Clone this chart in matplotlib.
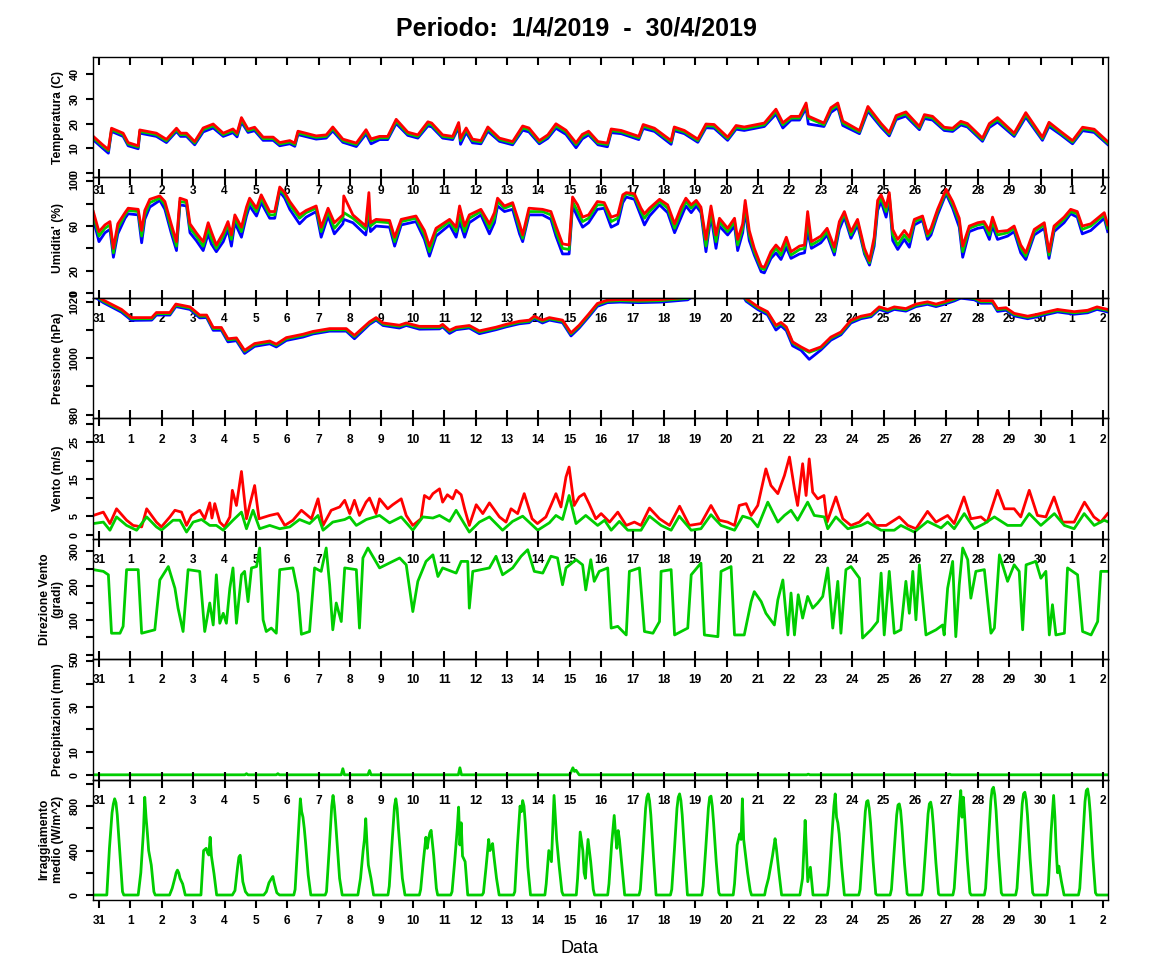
import matplotlib
matplotlib.use("Agg")
import matplotlib.pyplot as plt

plt.rcParams['font.family'] = ['Liberation Sans', 'DejaVu Sans']

# time axis: days counted from 31/3/2019 00:00
day_labels = ['31'] + [str(d) for d in range(1, 31)] + ['1', '2']

# --- temperature (C) ---
temp_t = [-0.18, 0.1, 0.3, 0.4, 0.77, 0.93, 1.25, 1.3, 1.83, 2.15,
          2.47, 2.6, 2.79, 3.05, 3.32, 3.64, 3.96, 4.27, 4.4, 4.54,
          4.75, 4.96, 5.23, 5.55, 5.76, 6.08, 6.24, 6.34, 6.92, 7.24,
          7.45, 7.77, 8.2, 8.51, 8.67, 8.94, 9.2, 9.47, 9.84, 10.16,
          10.48, 10.6, 10.95, 11.27, 11.46, 11.52, 11.7, 11.9, 12.17, 12.39,
          12.76, 13.18, 13.5, 13.7, 14.03, 14.3, 14.56, 14.88, 15.2, 15.4,
          15.6, 15.9, 16.2, 16.32, 16.64, 17.2, 17.34, 17.7, 18.23, 18.33,
          18.65, 19.08, 19.34, 19.6, 20.03, 20.3, 20.56, 21.2, 21.57, 21.79,
          22.05, 22.32, 22.53, 22.6, 23.1, 23.32, 23.54, 23.7, 24.23, 24.5,
          24.92, 25.18, 25.4, 25.71, 26.14, 26.3, 26.56, 26.93, 27.2, 27.46,
          27.67, 28.15, 28.37, 28.63, 29.16, 29.53, 30.06, 30.27, 30.64, 31.02,
          31.34, 31.71, 32.14]
temp_med = [14.2, 11.0, 9.0, 17.5, 15.5, 11.7, 10.5, 16.8, 15.5, 13.0,
            17.5, 15.5, 15.5, 12.1, 17.5, 19.1, 15.5, 17.1, 15.5, 21.6,
            17.1, 17.9, 13.9, 13.9, 11.7, 12.5, 11.5, 16.2, 14.4, 14.8,
            17.9, 13.1, 11.5, 16.8, 13.1, 14.2, 14.2, 20.9, 15.9, 14.8,
            19.9, 19.5, 14.8, 14.2, 19.5, 13.1, 17.5, 13.1, 12.5, 17.9,
            13.5, 12.1, 18.2, 17.5, 12.5, 14.8, 19.1, 16.6, 11.5, 14.8,
            16.2, 12.1, 11.5, 17.1, 16.6, 14.2, 18.9, 17.5, 12.5, 17.9,
            16.6, 13.1, 19.1, 18.9, 13.9, 18.5, 17.9, 19.5, 24.9, 19.5,
            22.2, 22.2, 27.4, 22.2, 19.5, 25.6, 27.4, 20.2, 16.6, 26.0,
            19.3, 15.8, 22.5, 23.9, 18.2, 22.9, 22.2, 17.9, 17.5, 20.2,
            19.3, 13.5, 19.3, 21.6, 15.5, 23.6, 13.9, 19.8, 16.2, 12.5,
            17.9, 17.1, 12.1]
temp_max = [14.8, 11.6, 9.5, 18.1, 16.1, 12.3, 11.0, 17.4, 16.1, 13.6,
            18.1, 16.1, 16.1, 12.7, 18.2, 19.8, 16.1, 17.8, 16.1, 22.4,
            17.7, 18.5, 14.5, 14.5, 12.3, 13.1, 12.1, 16.9, 15.0, 15.4,
            18.6, 13.7, 12.1, 17.5, 13.8, 14.8, 14.8, 21.7, 16.5, 15.4,
            20.7, 20.2, 15.4, 14.8, 20.4, 14.0, 18.2, 13.7, 13.1, 18.6,
            14.1, 12.7, 19.0, 18.2, 13.1, 15.4, 19.9, 17.3, 12.2, 15.6,
            16.9, 12.7, 12.1, 17.8, 17.2, 14.8, 19.6, 18.1, 13.1, 18.6,
            17.2, 13.7, 19.8, 19.6, 14.5, 19.2, 18.6, 20.2, 25.8, 20.3,
            22.9, 22.9, 28.3, 23.0, 20.2, 26.4, 28.3, 21.0, 17.2, 26.9,
            20.0, 16.4, 23.2, 24.7, 18.8, 23.6, 22.9, 18.5, 18.1, 20.9,
            20.0, 14.1, 20.0, 22.4, 16.1, 24.4, 14.5, 20.5, 16.8, 13.1,
            18.5, 17.7, 12.7]
temp_min = [13.4, 10.2, 8.0, 16.8, 14.8, 11.0, 9.8, 16.1, 14.8, 12.3,
            16.8, 14.8, 14.8, 11.4, 16.6, 18.2, 14.8, 16.3, 14.6, 20.6,
            16.4, 17.1, 13.2, 13.2, 11.0, 11.8, 10.8, 15.5, 13.7, 14.1,
            17.0, 12.4, 10.7, 15.8, 11.8, 13.5, 13.5, 20.0, 15.2, 14.1,
            19.0, 18.7, 14.1, 13.5, 18.4, 11.6, 16.4, 12.2, 11.8, 16.9,
            12.8, 11.4, 17.3, 16.6, 11.8, 14.0, 18.1, 15.6, 10.2, 13.8,
            15.4, 11.4, 10.6, 16.3, 15.9, 13.5, 18.0, 16.8, 11.6, 17.1,
            15.9, 12.4, 18.3, 18.1, 13.2, 17.7, 17.2, 18.8, 23.8, 18.2,
            21.4, 21.4, 26.2, 19.8, 18.8, 24.5, 26.4, 19.2, 15.9, 25.0,
            18.5, 15.0, 21.6, 23.0, 17.5, 22.0, 21.4, 17.2, 16.8, 19.4,
            18.6, 12.8, 18.4, 20.6, 14.8, 22.6, 13.2, 18.8, 15.5, 11.8,
            17.1, 16.4, 11.5]

# --- relative humidity (%) ---
hum_t = [-0.18, 0.0, 0.19, 0.35, 0.46, 0.6, 0.83, 0.93, 1.25, 1.36,
         1.46, 1.62, 1.94, 2.1, 2.3, 2.47, 2.58, 2.79, 2.9, 3.1,
         3.32, 3.48, 3.58, 3.74, 3.96, 4.11, 4.22, 4.33, 4.54, 4.7,
         4.8, 5.02, 5.17, 5.44, 5.6, 5.76, 5.92, 6.08, 6.39, 6.6,
         6.92, 7.08, 7.3, 7.5, 7.77, 7.8, 8.09, 8.5, 8.6, 8.65,
         8.83, 9.26, 9.42, 9.63, 10.1, 10.37, 10.53, 10.74, 11.17, 11.38,
         11.49, 11.65, 11.8, 12.17, 12.44, 12.6, 12.7, 12.92, 13.18, 13.4,
         13.5, 13.7, 14.13, 14.4, 14.56, 14.77, 14.98, 15.09, 15.25, 15.41,
         15.6, 15.88, 16.1, 16.32, 16.53, 16.69, 16.8, 17.06, 17.27, 17.38,
         17.54, 17.86, 18.12, 18.34, 18.55, 18.7, 18.87, 19.03, 19.18, 19.34,
         19.5, 19.66, 19.77, 20.03, 20.25, 20.35, 20.51, 20.59, 20.72, 20.88,
         21.1, 21.2, 21.41, 21.57, 21.73, 21.9, 22.05, 22.32, 22.48, 22.58,
         22.7, 23.0, 23.2, 23.43, 23.59, 23.75, 23.96, 24.17, 24.39, 24.55,
         24.7, 24.81, 24.92, 25.08, 25.18, 25.29, 25.45, 25.66, 25.82, 25.98,
         26.24, 26.4, 26.51, 26.72, 26.99, 27.2, 27.41, 27.52, 27.73, 28.0,
         28.2, 28.37, 28.47, 28.63, 28.95, 29.16, 29.37, 29.53, 29.8, 30.12,
         30.27, 30.43, 30.75, 30.96, 31.17, 31.33, 31.6, 32.03, 32.14]
hum_med = [70, 51, 58, 61, 36, 58, 70, 74, 73, 51,
           70, 81, 85, 79, 58, 42, 82, 81, 58, 51,
           42, 58, 49, 40, 51, 61, 48, 67, 55, 73,
           82, 73, 85, 70, 70, 93, 88, 79, 67, 72,
           76, 55, 73, 58, 67, 72, 67, 57, 78, 60,
           64, 63, 46, 64, 67, 52, 37, 55, 64, 55,
           70, 55, 67, 73, 58, 67, 82, 76, 79, 58,
           49, 73, 73, 70, 55, 40, 39, 82, 73, 64,
           67, 79, 79, 64, 67, 85, 89, 87, 73, 67,
           73, 82, 76, 58, 73, 82, 76, 81, 75, 42,
           73, 46, 64, 55, 64, 43, 58, 79, 52, 37,
           22, 21, 34, 40, 34, 46, 34, 39, 40, 64,
           43, 48, 55, 37, 61, 71, 52, 64, 37, 27,
           46, 79, 85, 73, 88, 52, 43, 52, 46, 64,
           67, 51, 55, 73, 91, 79, 64, 37, 58, 61,
           62, 52, 64, 52, 54, 58, 40, 33, 55, 61,
           34, 58, 66, 73, 71, 57, 60, 70, 58]
hum_max = [73, 55, 61, 64, 40, 62, 72, 76, 75, 56,
           74, 84, 87, 82, 62, 46, 85, 83, 62, 54,
           46, 63, 55, 43, 54, 64, 52, 70, 59, 77,
           85, 76, 88, 73, 73, 95, 90, 82, 70, 74,
           78, 59, 76, 63, 70, 87, 70, 60, 90, 63,
           66, 65, 50, 66, 69, 56, 42, 58, 66, 59,
           78, 60, 70, 75, 62, 72, 85, 78, 81, 62,
           52, 76, 75, 73, 60, 44, 43, 86, 79, 68,
           70, 82, 81, 68, 70, 88, 90, 89, 76, 71,
           76, 84, 79, 62, 77, 85, 79, 83, 77, 48,
           78, 52, 67, 58, 67, 48, 62, 83, 56, 40,
           24, 23, 37, 43, 38, 50, 37, 42, 43, 73,
           46, 51, 58, 41, 64, 73, 55, 66, 40, 29,
           50, 83, 88, 77, 90, 57, 48, 56, 50, 66,
           69, 53, 58, 75, 93, 82, 67, 42, 60, 63,
           64, 56, 68, 55, 56, 60, 43, 36, 57, 63,
           37, 60, 68, 75, 73, 60, 62, 72, 61]
hum_min = [66, 46, 54, 57, 32, 53, 67, 71, 70, 45,
           66, 77, 83, 75, 54, 38, 79, 78, 54, 47,
           38, 53, 44, 37, 46, 57, 42, 63, 50, 69,
           78, 69, 81, 67, 67, 91, 85, 75, 62, 68,
           73, 50, 69, 53, 62, 66, 63, 52, 70, 55,
           60, 59, 42, 61, 64, 48, 33, 51, 61, 50,
           64, 50, 63, 70, 53, 63, 78, 73, 75, 53,
           46, 70, 70, 66, 51, 35, 35, 78, 68, 59,
           63, 75, 76, 59, 62, 81, 86, 84, 69, 61,
           69, 79, 72, 54, 68, 78, 72, 78, 72, 37,
           69, 40, 60, 52, 60, 38, 54, 74, 47, 34,
           19, 18, 31, 36, 30, 41, 31, 35, 36, 55,
           40, 45, 52, 34, 57, 68, 49, 61, 35, 25,
           42, 74, 82, 68, 84, 47, 39, 48, 41, 61,
           65, 48, 52, 70, 89, 76, 59, 32, 55, 58,
           59, 48, 60, 48, 51, 55, 36, 30, 52, 58,
           31, 55, 63, 71, 68, 53, 56, 67, 55]

# --- pressure (hPa) ---
pres_t = [-0.18, 0.14, 0.72, 1.04, 1.68, 1.83, 2.26, 2.45, 2.9, 3.21,
          3.43, 3.64, 3.9, 4.11, 4.38, 4.64, 4.96, 5.44, 5.65, 5.97,
          6.5, 6.82, 7.35, 7.88, 8.14, 8.62, 8.83, 9.05, 9.57, 9.79,
          10.21, 10.85, 10.95, 11.17, 11.38, 11.8, 12.12, 12.65, 12.97, 13.39,
          13.71, 13.87, 14.13, 14.35, 14.77, 15.04, 15.3, 15.6, 15.88, 16.2,
          16.6, 17.2, 17.9, 18.76, 19.0, 20.5, 20.62, 21.0, 21.3, 21.57,
          21.73, 21.9, 22.1, 22.37, 22.63, 23.0, 23.32, 23.64, 23.96, 24.28,
          24.6, 24.86, 25.13, 25.34, 25.71, 26.03, 26.4, 26.67, 26.93, 27.25,
          27.46, 27.89, 28.1, 28.47, 28.63, 28.9, 29.16, 29.59, 29.9, 30.23,
          30.54, 31.07, 31.5, 31.8, 32.14]
pres_med = [1022.5, 1020.2, 1016.9, 1014.0, 1014.0, 1015.8, 1015.8, 1018.8, 1017.8, 1014.9,
            1014.9, 1010.5, 1010.5, 1006.5, 1006.8, 1002.4, 1004.8, 1005.7, 1004.6, 1006.9,
            1008.1, 1009.1, 1010.1, 1010.1, 1007.7, 1012.5, 1014.0, 1012.1, 1011.3, 1012.1,
            1010.9, 1010.9, 1011.6, 1009.5, 1010.6, 1011.2, 1009.3, 1010.6, 1011.6, 1012.7,
            1013.1, 1014.5, 1013.1, 1014.0, 1013.1, 1008.6, 1011.3, 1015.2, 1019.0, 1020.2,
            1020.4, 1020.2, 1020.4, 1021.2, 1023.0, 1023.0, 1020.8, 1017.8, 1016.1, 1011.3,
            1012.3, 1010.7, 1005.4, 1003.6, 1002.1, 1003.6, 1007.1, 1008.9, 1013.1, 1014.5,
            1015.2, 1017.8, 1016.9, 1017.8, 1017.2, 1018.8, 1019.6, 1018.8, 1019.6, 1020.8,
            1021.8, 1021.2, 1020.0, 1020.0, 1017.2, 1017.5, 1015.5, 1014.5, 1015.2, 1016.1,
            1016.9, 1016.1, 1016.6, 1017.8, 1016.9]
pres_min = [1022.0, 1019.7, 1016.3, 1013.4, 1013.5, 1015.3, 1015.3, 1018.3, 1017.3, 1014.3,
            1014.4, 1009.9, 1009.9, 1005.8, 1006.2, 1001.7, 1004.2, 1005.1, 1004.0, 1006.3,
            1007.5, 1008.6, 1009.6, 1009.6, 1006.9, 1012.0, 1013.5, 1011.6, 1010.7, 1011.6,
            1010.3, 1010.4, 1011.1, 1008.8, 1010.1, 1010.7, 1008.7, 1010.1, 1011.1, 1012.2,
            1012.6, 1014.0, 1012.5, 1013.5, 1012.6, 1007.9, 1010.7, 1014.6, 1018.4, 1019.7,
            1019.9, 1019.7, 1019.9, 1020.7, 1022.5, 1022.5, 1020.2, 1017.2, 1015.4, 1010.0,
            1011.5, 1009.8, 1004.4, 1002.8, 999.6, 1002.9, 1006.4, 1008.3, 1012.5, 1014.0,
            1014.7, 1017.3, 1016.3, 1017.3, 1016.7, 1018.3, 1019.1, 1018.3, 1019.1, 1020.3,
            1021.3, 1020.7, 1019.5, 1019.5, 1016.6, 1017.0, 1015.0, 1014.0, 1014.7, 1015.6,
            1016.4, 1015.6, 1016.1, 1017.3, 1016.4]
pres_max = [1022.9, 1020.6, 1017.3, 1014.4, 1014.4, 1016.2, 1016.2, 1019.2, 1018.2, 1015.3,
            1015.3, 1010.9, 1010.9, 1006.9, 1007.2, 1002.8, 1005.2, 1006.1, 1005.0, 1007.3,
            1008.5, 1009.5, 1010.5, 1010.5, 1008.1, 1012.9, 1014.4, 1012.5, 1011.7, 1012.5,
            1011.3, 1011.3, 1012.0, 1009.9, 1011.0, 1011.6, 1009.7, 1011.0, 1012.0, 1013.1,
            1013.5, 1014.9, 1013.5, 1014.4, 1013.5, 1009.0, 1011.7, 1015.6, 1019.4, 1020.6,
            1020.8, 1020.6, 1020.8, 1021.6, 1023.4, 1023.4, 1021.2, 1018.2, 1016.5, 1011.7,
            1012.7, 1011.1, 1005.8, 1004.0, 1002.5, 1004.0, 1007.5, 1009.3, 1013.5, 1014.9,
            1015.6, 1018.2, 1017.3, 1018.2, 1017.6, 1019.2, 1020.0, 1019.2, 1020.0, 1021.2,
            1022.2, 1021.6, 1020.4, 1020.4, 1017.6, 1017.9, 1015.9, 1014.9, 1015.6, 1016.5,
            1017.3, 1016.5, 1017.0, 1018.2, 1017.3]

# --- wind gust (red) and mean wind (green), m/s ---
gust_t = [-0.18, 0.14, 0.35, 0.56, 0.88, 1.09, 1.36, 1.52, 1.83, 1.99,
          2.26, 2.42, 2.63, 2.79, 2.95, 3.21, 3.37, 3.53, 3.6, 3.69,
          3.85, 4.0, 4.17, 4.25, 4.38, 4.54, 4.7, 4.8, 4.96, 5.1,
          5.44, 5.7, 5.92, 6.18, 6.45, 6.77, 6.98, 7.14, 7.4, 7.67,
          7.83, 7.99, 8.14, 8.3, 8.51, 8.62, 8.83, 8.94, 9.2, 9.36,
          9.63, 9.79, 10.0, 10.26, 10.37, 10.53, 10.64, 10.85, 10.95, 11.1,
          11.27, 11.38, 11.54, 11.65, 11.8, 12.02, 12.23, 12.44, 12.76, 12.97,
          13.13, 13.34, 13.55, 13.8, 13.97, 14.24, 14.4, 14.56, 14.72, 14.88,
          14.98, 15.14, 15.3, 15.46, 15.62, 15.83, 16.0, 16.27, 16.53, 16.8,
          17.06, 17.27, 17.54, 17.86, 18.18, 18.5, 18.81, 19.18, 19.5, 19.77,
          20.03, 20.25, 20.4, 20.62, 20.78, 20.99, 21.25, 21.41, 21.63, 21.84,
          22.0, 22.16, 22.26, 22.42, 22.53, 22.63, 22.74, 22.9, 23.1, 23.2,
          23.48, 23.7, 23.96, 24.23, 24.5, 24.76, 25.08, 25.5, 25.77, 26.03,
          26.4, 26.67, 27.04, 27.25, 27.56, 27.78, 28.1, 28.3, 28.63, 28.85,
          29.16, 29.37, 29.64, 29.9, 30.17, 30.43, 30.7, 31.07, 31.4, 31.7,
          31.92, 32.14]
gust_v = [5.2, 6.1, 3.0, 7.0, 3.9, 2.5, 2.1, 7.0, 3.4, 2.1,
          4.8, 6.6, 6.1, 2.5, 5.2, 6.6, 4.3, 8.6, 4.5, 8.4,
          3.4, 2.1, 4.8, 12.0, 7.9, 17.1, 4.3, 7.9, 13.3, 4.3,
          5.2, 5.7, 2.5, 3.9, 6.6, 4.3, 9.7, 2.5, 6.6, 7.5,
          9.3, 5.7, 9.3, 5.2, 8.8, 9.9, 5.7, 9.7, 7.0, 8.1,
          9.7, 5.2, 2.5, 4.3, 10.6, 9.7, 11.1, 12.4, 8.8, 10.8,
          9.7, 12.0, 10.8, 7.0, 2.5, 8.1, 5.7, 8.6, 4.8, 3.4,
          7.0, 5.7, 11.1, 4.3, 3.0, 4.8, 7.9, 11.1, 7.5, 15.6,
          18.3, 7.9, 10.2, 11.1, 8.3, 4.3, 5.7, 3.4, 6.1, 2.5,
          3.4, 2.5, 7.2, 4.3, 2.5, 7.7, 2.5, 3.0, 7.9, 3.9,
          3.4, 2.5, 7.9, 8.4, 5.2, 7.9, 17.8, 13.3, 11.1, 16.0,
          21.0, 12.4, 7.9, 19.2, 10.6, 20.5, 11.5, 9.7, 10.6, 3.4,
          10.2, 4.3, 2.5, 3.4, 5.7, 2.5, 2.5, 4.8, 2.5, 1.6,
          6.3, 3.4, 5.2, 3.0, 10.2, 4.3, 4.8, 3.4, 12.0, 7.0,
          7.0, 4.8, 12.0, 5.2, 4.8, 10.2, 3.4, 3.4, 8.8, 4.8,
          3.4, 5.7]
wind_t = [-0.18, 0.14, 0.35, 0.56, 0.88, 1.2, 1.52, 1.83, 1.99, 2.36,
          2.58, 2.79, 3.0, 3.27, 3.53, 3.74, 3.96, 4.27, 4.54, 4.7,
          4.91, 5.12, 5.44, 5.76, 6.08, 6.39, 6.71, 6.98, 7.14, 7.45,
          7.83, 7.99, 8.2, 8.52, 8.94, 9.26, 9.63, 10.0, 10.32, 10.64,
          10.85, 11.17, 11.38, 11.8, 12.12, 12.44, 12.86, 13.18, 13.5, 13.98,
          14.35, 14.56, 14.77, 14.98, 15.2, 15.51, 15.89, 16.11, 16.32, 16.58,
          16.85, 17.27, 17.54, 17.91, 18.23, 18.49, 18.87, 19.18, 19.5, 19.82,
          20.25, 20.51, 20.78, 20.99, 21.31, 21.63, 21.84, 22.05, 22.26, 22.58,
          22.79, 23.11, 23.22, 23.48, 23.86, 24.28, 24.49, 24.92, 25.34, 25.55,
          25.98, 26.4, 26.83, 27.04, 27.25, 27.57, 27.89, 28.21, 28.53, 28.95,
          29.38, 29.64, 30.01, 30.44, 30.76, 31.07, 31.39, 31.71, 32.03, 32.14]
wind_v = [3.0, 3.4, 1.2, 4.8, 2.5, 1.2, 4.8, 2.1, 1.2, 3.9,
          3.9, 0.7, 3.4, 4.1, 2.5, 2.5, 1.2, 3.9, 6.1, 1.6,
          6.6, 1.6, 2.5, 1.6, 2.1, 4.1, 3.0, 5.2, 1.2, 3.4,
          4.1, 4.8, 2.5, 4.1, 5.2, 3.2, 4.8, 1.2, 4.8, 4.5,
          5.2, 3.6, 6.6, 0.7, 3.4, 4.8, 1.2, 3.6, 5.0, 1.2,
          3.2, 5.2, 4.1, 10.6, 3.0, 5.2, 2.5, 3.9, 1.2, 3.6,
          1.2, 1.2, 5.0, 2.5, 1.2, 5.0, 1.2, 1.6, 5.4, 2.5,
          1.2, 5.0, 4.3, 2.1, 8.8, 3.4, 5.2, 6.6, 3.9, 8.8,
          5.2, 4.8, 1.6, 4.8, 1.6, 2.5, 3.4, 1.2, 1.2, 2.5,
          0.7, 3.6, 1.8, 3.4, 1.6, 5.7, 1.6, 3.0, 4.8, 2.5,
          2.5, 5.7, 2.5, 5.7, 2.5, 1.6, 5.7, 2.5, 3.9, 3.5]

# --- wind direction (degrees) ---
dir_t = [-0.18, 0.14, 0.3, 0.4, 0.67, 0.77, 0.88, 1.25, 1.36, 1.78,
         1.94, 2.21, 2.42, 2.52, 2.68, 2.84, 3.21, 3.37, 3.53, 3.64,
         3.74, 3.85, 3.96, 4.06, 4.17, 4.27, 4.38, 4.54, 4.64, 4.75,
         4.86, 5.02, 5.12, 5.23, 5.33, 5.49, 5.65, 5.76, 6.18, 6.34,
         6.45, 6.71, 6.87, 7.08, 7.24, 7.35, 7.45, 7.56, 7.72, 7.83,
         8.2, 8.3, 8.41, 8.57, 8.94, 9.36, 9.58, 9.79, 10.0, 10.16,
         10.42, 10.64, 10.8, 10.95, 11.38, 11.54, 11.75, 11.8, 11.91, 12.44,
         12.65, 12.86, 13.18, 13.45, 13.66, 13.87, 14.14, 14.4, 14.61, 14.77,
         14.88, 15.2, 15.41, 15.51, 15.67, 15.78, 15.94, 16.21, 16.32, 16.53,
         16.8, 16.9, 17.22, 17.38, 17.65, 17.86, 17.91, 18.23, 18.34, 18.76,
         18.87, 19.18, 19.29, 19.72, 19.82, 20.14, 20.25, 20.56, 20.78, 20.88,
         21.1, 21.25, 21.52, 21.63, 21.79, 21.95, 22.05, 22.16, 22.28, 22.42,
         22.58, 22.74, 22.9, 23.06, 23.22, 23.38, 23.54, 23.64, 23.8, 23.96,
         24.23, 24.33, 24.6, 24.81, 24.92, 25.02, 25.18, 25.34, 25.55, 25.71,
         25.82, 25.93, 26.03, 26.14, 26.35, 26.67, 26.88, 26.93, 27.04, 27.2,
         27.3, 27.41, 27.52, 27.68, 27.78, 27.94, 28.21, 28.42, 28.53, 28.69,
         28.95, 29.16, 29.32, 29.43, 29.54, 29.85, 30.01, 30.17, 30.28, 30.38,
         30.49, 30.76, 30.86, 31.18, 31.34, 31.61, 31.82, 31.92, 32.14]
dir_v = [247, 242, 232, 62, 62, 82, 247, 247, 62, 72,
         217, 256, 193, 135, 67, 247, 242, 67, 150, 86,
         232, 91, 120, 91, 193, 252, 91, 232, 242, 154,
         252, 256, 310, 101, 67, 77, 62, 247, 252, 179,
         59, 67, 252, 242, 310, 203, 72, 150, 96, 252,
         247, 77, 281, 310, 252, 271, 281, 261, 125, 213,
         271, 290, 227, 252, 237, 271, 271, 135, 242, 252,
         286, 232, 252, 286, 305, 242, 237, 286, 281, 203,
         252, 276, 261, 188, 276, 213, 242, 252, 77, 82,
         57, 242, 252, 67, 62, 96, 242, 247, 57, 77,
         232, 266, 57, 52, 242, 256, 57, 57, 154, 183,
         154, 120, 86, 159, 217, 57, 179, 57, 174, 106,
         169, 135, 150, 169, 252, 77, 213, 62, 247, 256,
         222, 48, 72, 96, 237, 57, 242, 62, 72, 213,
         120, 242, 101, 261, 57, 72, 86, 57, 193, 271,
         52, 203, 310, 276, 164, 242, 247, 62, 77, 290,
         213, 261, 242, 72, 261, 271, 222, 242, 57, 145,
         57, 62, 252, 232, 67, 57, 96, 242, 242]

# --- precipitation (mm) ---
prec_t = [-0.2, 4.65, 4.7, 4.75, 5.65, 5.7, 5.75, 7.72, 7.77, 7.82,
          8.57, 8.62, 8.67, 11.45, 11.5, 11.55, 15.0, 15.1, 15.15, 15.2,
          15.3, 22.55, 22.6, 22.65, 27.05, 27.1, 27.15, 32.14]
prec_v = [0, 0, 0.5, 0, 0, 0.5, 0, 0, 2.7, 0,
          0, 1.9, 0, 0, 3.1, 0, 0, 3.1, 1.5, 2.0,
          0, 0, 0.3, 0, 0, 0.3, 0, 0]

# --- mean irradiance (W/m^2), one row per day at these hours ---
rad_hours = [5, 6, 8, 10, 11, 12, 13, 14, 16, 18, 19]
rad_by_day = [
    [0, 0, 420, 740, 820, 866, 830, 720, 370, 30, 0],    # 31/3
    [0, 0, 200, 570, 880, 700, 560, 400, 270, 30, 0],
    [0, 0, 60, 150, 200, 224, 200, 150, 100, 0, 0],
    [0, 0, 400, 420, 380, 360, 520, 350, 190, 0, 0],
    [0, 0, 40, 250, 340, 358, 250, 120, 30, 0, 0],
    [0, 0, 30, 110, 130, 150, 167, 110, 20, 0, 0],
    [0, 50, 450, 866, 750, 700, 600, 470, 180, 0, 0],
    [0, 30, 400, 800, 896, 800, 650, 480, 150, 0, 0],
    [0, 0, 150, 400, 500, 687, 450, 270, 150, 0, 0],
    [0, 80, 450, 800, 866, 780, 600, 450, 150, 0, 0],
    [0, 50, 300, 520, 420, 500, 560, 582, 350, 60, 0],
    [0, 30, 300, 600, 791, 450, 650, 350, 300, 0, 0],
    [0, 20, 250, 500, 400, 430, 463, 350, 150, 0, 0],
    [0, 30, 450, 800, 750, 850, 800, 650, 250, 0, 0],
    [0, 100, 400, 300, 600, 896, 700, 500, 250, 30, 0],
    [0, 150, 567, 400, 200, 150, 350, 500, 300, 50, 0],
    [0, 100, 450, 716, 550, 420, 580, 500, 250, 0, 0],
    [0, 50, 400, 780, 880, 910, 850, 720, 350, 0, 0],
    [0, 50, 400, 780, 880, 910, 850, 720, 350, 0, 0],
    [0, 80, 420, 780, 880, 890, 800, 650, 300, 20, 0],
    [0, 100, 450, 550, 500, 866, 500, 400, 200, 40, 0],
    [0, 60, 150, 280, 350, 430, 507, 420, 200, 0, 0],
    [0, 0, 0, 150, 400, 672, 400, 120, 250, 0, 0],
    [0, 80, 450, 800, 910, 700, 650, 550, 250, 0, 0],
    [0, 50, 400, 750, 840, 850, 780, 650, 300, 10, 0],
    [0, 50, 380, 720, 810, 820, 760, 620, 280, 10, 0],
    [0, 50, 380, 730, 820, 836, 770, 630, 290, 10, 0],
    [0, 60, 420, 800, 940, 700, 880, 700, 320, 20, 0],
    [0, 60, 450, 850, 950, 970, 900, 760, 350, 20, 0],
    [0, 60, 430, 820, 910, 925, 860, 720, 330, 20, 0],
    [0, 100, 550, 896, 700, 400, 200, 260, 120, 0, 0],
    [0, 60, 440, 840, 940, 955, 880, 740, 340, 20, 0],   # 1/5
]

rad_t = [-0.2]
rad_v = [0]
for d, row in enumerate(rad_by_day):
    rad_t += [d + h / 24 for h in rad_hours]
    rad_v += row
rad_t.append(32.14)
rad_v.append(0)

BLUE, GREEN, RED = '#0000FF', '#00CD00', '#FF0000'
LW = 2.0

fig = plt.figure(figsize=(11.52, 9.72), dpi=100)
W, H = 1152, 972
x0, x1 = 93, 1107.7
top, bot = 57, 900
n = 7
ph = (bot - top) / n
axes = []
for i in range(n):
    y = H - (top + (i + 1) * ph)
    ax = fig.add_axes([x0 / W, y / H, (x1 - x0) / W, ph / H])
    ax.set_facecolor('none')
    axes.append(ax)

ax_t, ax_h, ax_p, ax_w, ax_d, ax_r, ax_s = axes

ax_t.plot(temp_t, temp_min, color=BLUE, lw=LW)
ax_t.plot(temp_t, temp_med, color=GREEN, lw=LW)
ax_t.plot(temp_t, temp_max, color=RED, lw=LW)

ax_h.plot(hum_t, hum_min, color=BLUE, lw=LW)
ax_h.plot(hum_t, hum_med, color=GREEN, lw=LW)
ax_h.plot(hum_t, hum_max, color=RED, lw=LW)

ax_p.plot(pres_t, pres_min, color=BLUE, lw=LW)
ax_p.plot(pres_t, pres_med, color=GREEN, lw=LW)
ax_p.plot(pres_t, pres_max, color=RED, lw=LW)

ax_w.plot(gust_t, gust_v, color=RED, lw=LW)
ax_w.plot(wind_t, wind_v, color=GREEN, lw=LW)

ax_d.plot(dir_t, dir_v, color=GREEN, lw=LW)
ax_r.plot(prec_t, prec_v, color=GREEN, lw=LW)
ax_s.plot(rad_t, rad_v, color=GREEN, lw=LW)

panels = [
    (ax_t, 'Temperatura (C)', (-1.8, 46.9), [0, 10, 20, 30, 40], ['0', '10', '20', '30', '40']),
    (ax_h, "Umidita' (%)", (-4.4, 103.6), [0, 20, 40, 60, 80, 100], ['0', '20', '', '60', '', '100']),
    (ax_p, 'Pressione (hPa)', (978.7, 1021.4), [980, 990, 1000, 1010, 1020], ['980', '', '1000', '', '1020']),
    (ax_w, 'Vento (m/s)', (-1.1, 31.5), [0, 5, 10, 15, 20, 25, 30], ['0', '5', '', '15', '', '25', '']),
    (ax_d, 'Direzione Vento\n(gradi)', (-13.4, 337), [0, 50, 100, 150, 200, 250, 300],
     ['0', '', '100', '', '200', '', '300']),
    (ax_r, 'Precipitazioni (mm)', (-2.1, 51), [0, 10, 20, 30, 40, 50], ['0', '10', '', '30', '', '50']),
    (ax_s, 'Irraggiamento\nmedio (W/m^2)', (-45, 1039), [0, 200, 400, 600, 800, 1000],
     ['0', '', '400', '', '800', '']),
]

for i, (ax, label, ylim, yt, ytl) in enumerate(panels):
    ax.set_xlim(-0.19, 32.14)
    ax.set_ylim(*ylim)
    ax.set_xticks(range(33))
    ax.set_xticklabels(day_labels, fontsize=8.6, fontweight='bold')
    ax.set_yticks(yt)
    ax.set_yticklabels(ytl, rotation=90, va='center', fontsize=7.8, fontweight='bold')
    ax.tick_params(axis='x', which='both', bottom=True, top=True, direction='out',
                   length=5.5, width=1.5, pad=5.5)
    if i == 0:
        ax.tick_params(axis='x', top=True, direction='in')
        ax.tick_params(axis='x', bottom=True)
        for t in ax.xaxis.get_major_ticks():
            t.tick2line.set_marker(3)  # downward tick at the top edge
            t.tick1line.set_marker(3)
    ax.tick_params(axis='y', direction='out', length=5, width=1.5, pad=4.5)
    for s in ax.spines.values():
        s.set_linewidth(1.0)
    ax.set_ylabel(label, fontsize=8.7, fontweight='bold', linespacing=1.1)
    ax.yaxis.set_label_coords(-0.029, 0.5)

fig.text(0.5, 1 - 28 / H, 'Periodo:  1/4/2019  -  30/4/2019', ha='center', va='center',
         fontsize=18, fontweight='bold')
fig.text(0.503, 1 - 948 / H, 'Data', ha='center', va='center', fontsize=13)

fig.savefig('out.png', dpi=100, facecolor='white')
